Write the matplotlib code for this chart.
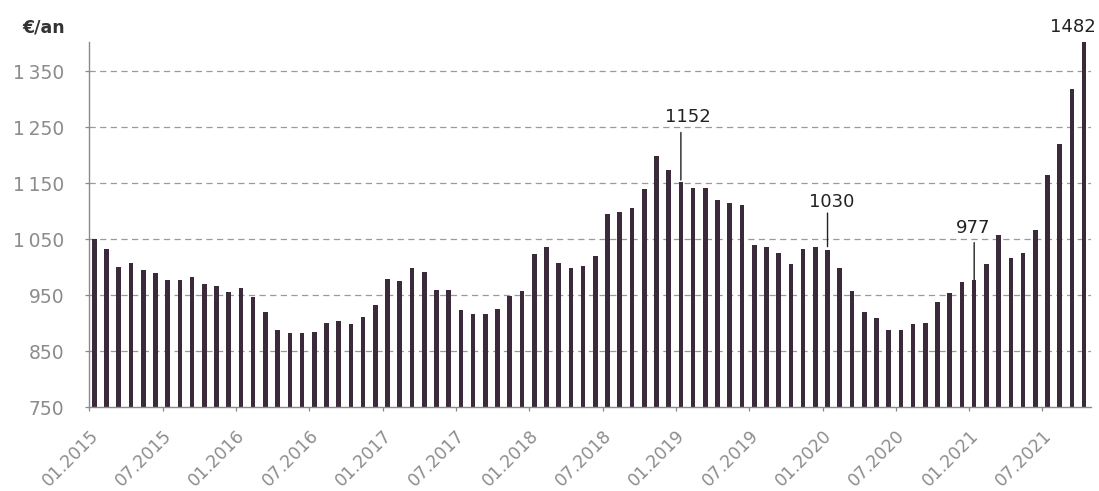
import numpy as np
import matplotlib
matplotlib.use('Agg')
import matplotlib.pyplot as plt
import matplotlib.transforms as mtransforms

# ---- data ----
values = [
    1050, 1032, 1001, 1007, 995, 989, 977, 977, 982, 970, 967, 955,      # 2015
    963, 947, 920, 888, 882, 882, 885, 900, 904, 898, 911, 932,          # 2016
    979, 976, 998, 992, 960, 960, 924, 916, 917, 925, 949, 957,          # 2017
    1023, 1036, 1008, 998, 1002, 1020, 1095, 1098, 1105, 1139, 1198, 1173,  # 2018
    1152, 1142, 1142, 1120, 1114, 1111, 1039, 1036, 1026, 1005, 1033, 1036,  # 2019
    1030, 998, 957, 920, 910, 888, 888, 898, 901, 938, 954, 973,         # 2020
    977, 1005, 1058, 1017, 1026, 1067, 1164, 1220, 1318, 1482,           # 2021
]
tick_labels = ["01.2015", "07.2015", "01.2016", "07.2016", "01.2017", "07.2017",
               "01.2018", "07.2018", "01.2019", "07.2019", "01.2020", "07.2020",
               "01.2021", "07.2021"]
tick_month_index = [0, 6, 12, 18, 24, 30, 36, 42, 48, 54, 60, 66, 72, 78]
y_ticks = [750, 850, 950, 1050, 1150, 1250, 1350]
y_tick_labels = ["750", "850", "950", "1\u2009050", "1\u2009150", "1\u2009250", "1\u2009350"]
grid_levels = [850, 950, 1050, 1150, 1250, 1350]
annot_index = [48, 60, 72]
annot_text = ["1152", "1030", "977"]
top_index = 81
top_text = "1482"

# ---- layout / style ----
W, H = 1099, 491
fig = plt.figure(figsize=(W / 100, H / 100), dpi=100)
left_px, right_px, top_px, bottom_px = 89.3, 1091.0, 42.0, 407.3
ax = fig.add_axes([left_px / W, 1 - bottom_px / H,
                   (right_px - left_px) / W, (bottom_px - top_px) / H])

bar_color = '#3b2a3a'
grey = '#8c8c8c'
x = np.arange(len(values))
ax.bar(x, values, width=0.38, color=bar_color, zorder=2)

ax.set_xlim(-0.41, 81.56)
ax.set_ylim(750, 1402)

for g in grid_levels:
    ax.axhline(g, color='#9a9a9a', lw=0.9, ls=(0, (5, 3.5)), zorder=1)

for s in ['top', 'right']:
    ax.spines[s].set_visible(False)
for s in ['left', 'bottom']:
    ax.spines[s].set_color('#8a8a8a')
    ax.spines[s].set_linewidth(1.0)

ax.set_yticks(y_ticks)
ax.set_yticklabels(y_tick_labels)
ax.tick_params(axis='y', length=3, width=0.9, color='#8a8a8a', pad=15,
               labelsize=13.5, labelcolor=grey)

ax.set_xticks(np.array(tick_month_index) - 0.41)
ax.set_xticklabels(tick_labels, rotation=45, ha='right', va='top',
                   rotation_mode='anchor')
ax.tick_params(axis='x', length=3, width=0.9, color='#8a8a8a', pad=11,
               labelsize=12.5, labelcolor=grey)

# annotations (line length, gap, text baseline, text dx) in points
annot_style = [(35.7, 1.5, 43.6, 5.0), (26.9, 2.7, 31.2, 3.2), (27.0, 0.3, 33.8, -0.7)]
for idx, txt, (ln, gap, tb, dx) in zip(annot_index, annot_text, annot_style):
    v = values[idx]
    base = mtransforms.offset_copy(ax.transData, fig=fig, x=0, y=gap, units='points')
    ax.annotate('', xy=(idx, v), xycoords='data', xytext=(0, ln),
                textcoords='offset points',
                arrowprops=dict(arrowstyle='-', color='#222222', lw=1.0,
                                shrinkA=0, shrinkB=gap))
    ax.annotate(txt, xy=(idx, v), xycoords='data', xytext=(dx, tb),
                textcoords='offset points', ha='center', va='baseline',
                fontsize=13, color='#222222')

ax.text(top_index, 1.028, top_text,
        transform=mtransforms.blended_transform_factory(ax.transData, ax.transAxes),
        ha='center', va='baseline', fontsize=13, color='#222222',
        clip_on=False)
# shift the top label slightly left as in the reference
ax.texts[-1].set_transform(ax.texts[-1].get_transform() +
                           mtransforms.ScaledTranslation(-11 / 100, 0, fig.dpi_scale_trans))

fig.text(43.7 / W, 1 - 28 / H, '€/an', ha='center', va='center',
         fontweight='bold', fontsize=12.5, color='#333333')

fig.savefig('out.png', dpi=100)
